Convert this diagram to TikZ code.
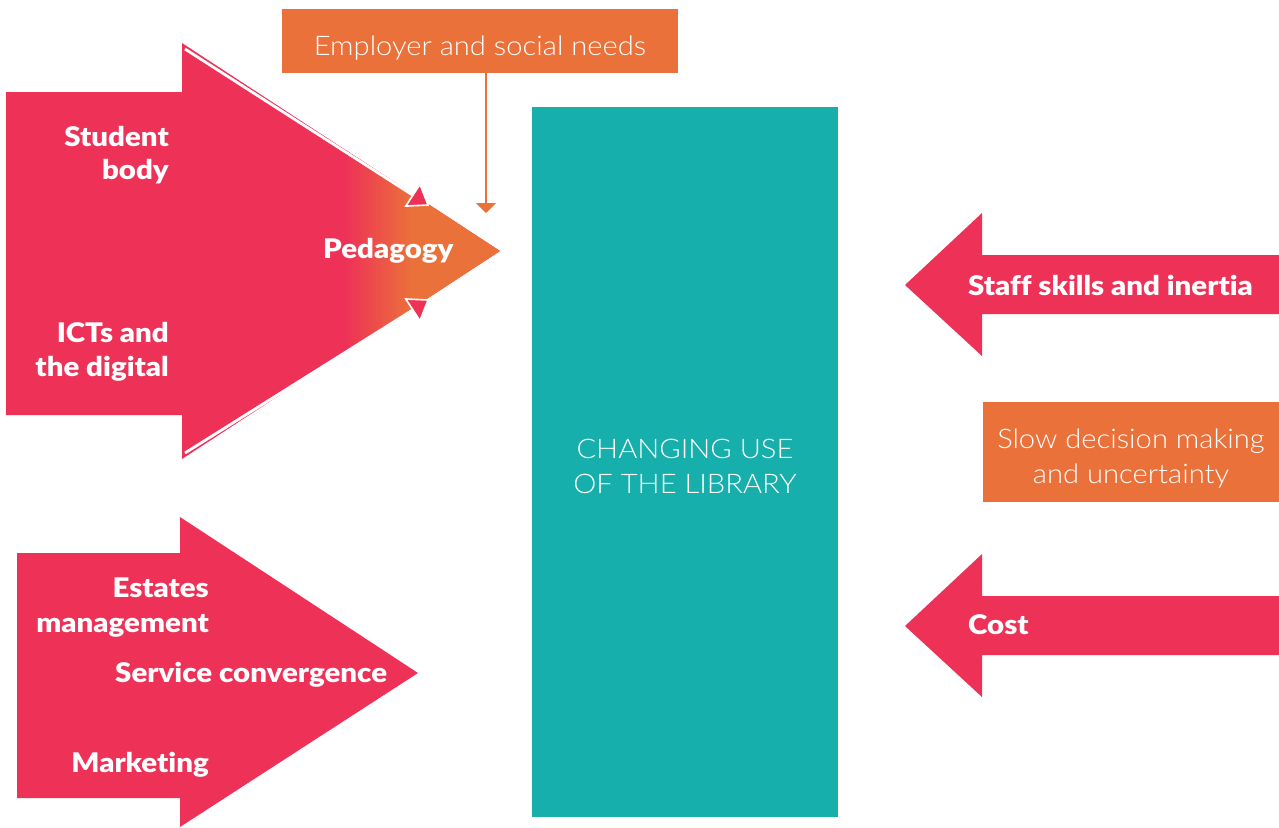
\documentclass[tikz,border=0pt]{standalone}
\usepackage{fontspec}
\setmainfont{Lato}
\newfontfamily\lightfont{Lato Light}[FakeStretch=1.08]
\newfontfamily\heavyfont{Lato Black}[FakeStretch=1.09,Ligatures=NoCommon]
\usetikzlibrary{arrows.meta}
\definecolor{pinkc}{RGB}{238,49,87}
\definecolor{orangec}{RGB}{235,113,58}
\definecolor{tealc}{RGB}{23,175,171}
\begin{document}
\begin{tikzpicture}[x=1pt,y=-1pt,
  boldlbl/.style={text=white,font=\heavyfont\fontsize{27}{32}\selectfont,inner sep=0pt},
  lightlbl/.style={text=white,font=\lightfont\fontsize{27}{32}\selectfont,inner sep=0pt},
  boxfill/.style={fill=orangec,draw=none,inner sep=0pt},
  arrowfill/.style={fill=pinkc,draw=none},
  edgeline/.style={white,line width=2.8pt},
  edgetip/.style={fill=pinkc,draw=white,line width=1.6pt,line join=miter}]
\useasboundingbox (0,0) rectangle (1279,827);

% top-left big arrow with gradient tip
\path[arrowfill] (6,92) -- (182,92) -- (182,43) -- (500,251) -- (182,459) -- (182,415) -- (6,415) -- cycle;
\begin{scope}
  \clip (182,43) -- (500,251) -- (182,459) -- cycle;
  \shade[left color=pinkc,right color=orangec,draw=none] (345,40) rectangle (412,460);
  \fill[orangec] (411.5,40) rectangle (505,460);
\end{scope}
% white inner edge lines with pink tips
\coordinate (tlA) at (185,49);
\coordinate (tlM) at (412.9,195.2);
\coordinate (tlT) at (428,205);
\coordinate (tlW1) at (405.8,206.1);
\coordinate (tlW2) at (420,184.3);
\coordinate (blA) at (185,453);
\coordinate (blM) at (412.9,309.9);
\coordinate (blT) at (428,300);
\coordinate (blW1) at (420,320.8);
\coordinate (blW2) at (405.8,299);
\draw[edgeline] (tlA) -- (tlM);
\draw[edgeline] (blA) -- (blM);
\draw[edgetip] (tlW1) -- (tlT) -- (tlW2) -- cycle;
\draw[edgetip] (blW1) -- (blT) -- (blW2) -- cycle;

\node[boldlbl,anchor=base east] (stu) at (169,146) {Student};
\node[boldlbl,anchor=base east] (bod) at (169,179) {body};
\node[boldlbl,anchor=base east] (ict) at (169,342) {ICTs and};
\node[boldlbl,anchor=base east] (dig) at (169,376) {the digital};
\node[boldlbl,anchor=base west] (ped) at (323,258) {Pedagogy};

% employer box and connector
\node[boxfill,minimum width=396pt,minimum height=64pt] (emp) at (480,41) {};
\node[lightlbl,anchor=base] (empt) at (480,55) {Employer and social needs};
\coordinate (pedtop) at (486,213);
\draw[orangec,line width=2pt,-{Triangle[length=10pt,width=20pt]}] (emp.south -| pedtop) -- (pedtop);

% central teal box
\node[fill=tealc,draw=none,minimum width=306pt,minimum height=710pt,inner sep=0pt] (lib) at (685,462) {};
\node[lightlbl,anchor=base] (lib1) at (685,458) {CHANGING USE};
\node[lightlbl,anchor=base] (lib2) at (685,493) {OF THE LIBRARY};

% bottom-left arrow
\path[arrowfill] (17,553) -- (180,553) -- (180,517) -- (418,673) -- (180,827) -- (180,798) -- (17,798) -- cycle;
\node[boldlbl,anchor=base east] (est) at (209,597) {Estates};
\node[boldlbl,anchor=base east] (man) at (209,632) {management};
\node[boldlbl,anchor=base west] (ser) at (115,682) {Service convergence};
\node[boldlbl,anchor=base east] (mar) at (209,772) {Marketing};

% right arrows
\path[arrowfill] (1279,255) -- (982,255) -- (982,213) -- (905,285) -- (982,356) -- (982,314) -- (1279,314) -- cycle;
\node[boldlbl,anchor=base west] (sta) at (968,295) {Staff skills and inertia};
\path[arrowfill] (1279,596) -- (982,596) -- (982,554) -- (905,626) -- (982,697) -- (982,655) -- (1279,655) -- cycle;
\node[boldlbl,anchor=base west] (cos) at (968,634) {Cost};

% slow decision box
\node[boxfill,minimum width=296pt,minimum height=100pt] (slow) at (1131,452) {};
\node[lightlbl,anchor=base] (slow1) at (1131,448) {Slow decision making};
\node[lightlbl,anchor=base] (slow2) at (1131,483) {and uncertainty};
\end{tikzpicture}
\end{document}
